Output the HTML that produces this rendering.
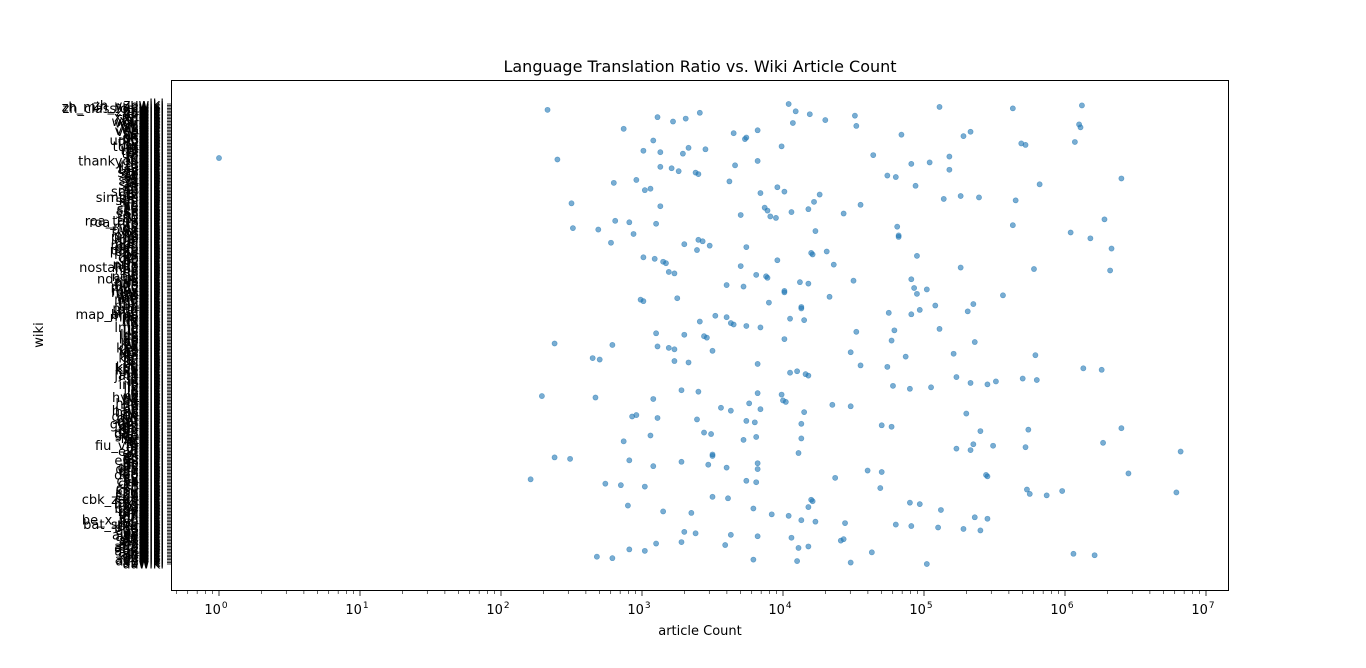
<!DOCTYPE html>
<html><head><meta charset="utf-8"><style>
body{margin:0;background:#fff;}
svg text{font-family:"DejaVu Sans","Liberation Sans",sans-serif;}
</style></head><body>
<svg id="chart" width="1366" height="663" xmlns="http://www.w3.org/2000/svg">
<rect width="1366" height="663" fill="#fff"/>
<text x="700" y="72" font-size="16" text-anchor="middle">Language Translation Ratio vs. Wiki Article Count</text>
<g id="ylabels"></g><g id="points"></g><g id="xaxis"></g>
<rect x="171.5" y="80.5" width="1057" height="510" fill="none" stroke="#000" stroke-width="1"/>
<text x="700" y="635" font-size="13" text-anchor="middle">article Count</text>
<text x="43" y="335" font-size="13" text-anchor="middle" transform="rotate(-90 43 335)">wiki</text>
</svg>
<script>
const categories = "aawiki abwiki acewiki adywiki afwiki akwiki alswiki altwiki amwiki amiwiki anwiki angwiki anpwiki arwiki arcwiki arzwiki aswiki astwiki atjwiki avwiki avkwiki awawiki aywiki azwiki azbwiki bawiki banwiki barwiki bat_smgwiki bclwiki bewiki be_x_oldwiki bgwiki bhwiki biwiki bjnwiki blkwiki bmwiki bnwiki bowiki bpywiki brwiki bswiki bugwiki bxrwiki cawiki cbk_zamwiki cdowiki cewiki cebwiki chwiki chowiki chrwiki chywiki ckbwiki cowiki crwiki crhwiki cswiki csbwiki cuwiki cvwiki cywiki dawiki dagwiki dewiki dinwiki diqwiki dsbwiki dtywiki dvwiki dzwiki eewiki elwiki emlwiki enwiki eowiki eswiki etwiki euwiki extwiki fawiki ffwiki fiwiki fiu_vrowiki fjwiki fowiki frwiki frpwiki frrwiki furwiki fywiki gawiki gagwiki ganwiki gcrwiki gdwiki glwiki glkwiki gnwiki gomwiki gorwiki gotwiki guwiki gurwiki guwwiki gvwiki hawiki hakwiki hawwiki hewiki hiwiki hifwiki howiki hrwiki hsbwiki htwiki huwiki hywiki hywwiki hzwiki iawiki idwiki iewiki igwiki iiwiki ikwiki ilowiki inhwiki iowiki iswiki itwiki iuwiki jawiki jamwiki jbowiki jvwiki kawiki kaawiki kabwiki kbdwiki kcgwiki kgwiki kiwiki kjwiki kkwiki klwiki kmwiki knwiki kowiki koiwiki krwiki krcwiki kswiki kshwiki kuwiki kvwiki kwwiki kywiki lawiki ladwiki lbwiki lbewiki lezwiki lfnwiki lgwiki liwiki lijwiki lldwiki lmowiki lnwiki lowiki lrcwiki ltwiki ltgwiki lvwiki madwiki maiwiki map_bmswiki mdfwiki mgwiki mhwiki mhrwiki miwiki minwiki mkwiki mlwiki mnwiki mniwiki mowiki mrwiki mrjwiki mswiki mtwiki muswiki mwlwiki mywiki myvwiki mznwiki nawiki nahwiki napwiki ndswiki nds_nlwiki newiki newwiki ngwiki nlwiki nnwiki nowiki novwiki nostalgiawiki nqowiki nrmwiki nsowiki nvwiki nywiki ocwiki olowiki omwiki orwiki oswiki pawiki pagwiki pamwiki papwiki pcdwiki pcmwiki pdcwiki pflwiki piwiki pihwiki plwiki pmswiki pnbwiki pntwiki pswiki ptwiki pwnwiki quwiki rmwiki rmywiki rnwiki rowiki roa_rupwiki roa_tarawiki ruwiki ruewiki rwwiki sawiki sahwiki scwiki scnwiki scowiki sdwiki sewiki sgwiki shwiki shiwiki shnwiki siwiki simplewiki skwiki skrwiki slwiki smwiki smnwiki snwiki sowiki sqwiki srwiki srnwiki sswiki stwiki stqwiki suwiki svwiki swwiki szlwiki szywiki tawiki taywiki tcywiki tewiki tetwiki tgwiki thwiki thankyouwiki tiwiki tkwiki tlwiki tnwiki towiki tpiwiki trwiki trvwiki tswiki ttwiki tumwiki twwiki tywiki tyvwiki udmwiki ugwiki ukwiki urwiki uzwiki vewiki vecwiki vepwiki viwiki vlswiki vowiki wawiki warwiki wowiki wuuwiki xalwiki xhwiki xmfwiki yiwiki yowiki zawiki zeawiki zhwiki zh_classicalwiki zh_min_nanwiki zh_yuewiki zuwiki".split(" ");
// log10(article count), listed from top row of chart downward
const articleCountLog10 = [4.04,6.12,5.11,5.63,2.33,4.09,3.41,4.19,4.51,3.11,3.31,4.30,3.22,4.07,6.10,4.52,6.11,2.87,3.82,5.33,3.65,4.84,5.28,3.74,3.73,3.08,6.07,5.69,5.72,3.99,3.33,3.45,3.01,3.13,3.29,4.64,5.18,0.00,2.40,3.82,5.04,4.91,3.66,3.13,3.21,5.18,3.26,3.38,3.40,4.74,4.80,6.40,2.96,3.62,2.80,5.82,4.94,3.96,3.06,3.02,4.01,3.84,4.26,5.26,5.39,5.14,5.65,4.22,2.50,4.55,3.13,3.87,4.18,3.89,4.06,4.43,3.70,3.91,3.95,6.28,2.81,2.91,3.10,5.63,4.81,2.51,2.69,4.23,6.04,2.94,4.82,4.82,6.18,3.40,3.43,2.78,3.30,3.48,3.74,6.33,3.39,4.31,4.20,4.21,4.95,3.01,3.09,3.96,3.15,3.17,4.36,3.70,5.26,5.78,6.32,3.19,3.23,3.81,3.88,3.89,4.91,4.50,4.12,4.18,3.60,3.72,4.93,5.02,4.01,4.01,4.95,5.56,4.33,3.25,2.99,3.01,3.90,5.35,5.08,4.13,4.13,4.97,5.31,4.75,4.91,3.52,3.60,4.05,4.15,3.41,3.63,3.65,3.74,3.84,5.11,4.79,4.52,3.10,3.30,3.44,3.46,4.01,4.77,5.36,2.38,2.79,3.11,3.19,3.23,3.50,4.48,5.21,5.79,4.87,2.65,2.70,3.23,3.33,3.82,4.55,4.74,6.13,6.26,4.10,4.05,4.16,4.18,5.23,5.70,5.80,5.51,5.33,5.45,4.78,5.05,4.90,3.28,3.40,3.82,3.99,2.29,2.67,3.08,4.00,4.02,3.76,4.35,4.48,3.56,3.84,3.63,4.15,5.30,2.96,2.93,3.11,3.39,3.74,3.80,4.13,4.70,4.77,6.40,5.74,5.40,3.44,3.49,3.06,3.81,4.13,3.72,2.87,6.27,5.35,5.49,5.72,5.23,5.33,6.82,4.11,3.50,3.50,2.38,2.49,2.91,3.28,3.82,3.47,3.08,3.60,3.82,4.60,4.70,6.45,5.44,5.45,4.37,2.21,3.74,3.81,2.74,2.85,3.02,4.69,5.73,5.98,6.79,5.75,5.87,3.50,3.61,4.20,4.21,4.90,4.97,2.90,4.18,3.79,5.12,3.15,3.35,3.92,4.04,5.36,5.45,4.13,4.23,4.44,4.80,4.91,5.10,5.28,5.40,3.30,3.38,3.63,3.82,4.06,4.43,4.41,3.28,3.10,3.59,4.18,4.11,2.91,3.02,4.63,6.06,6.21,2.68,2.79,3.79,4.10,4.48,5.02];
const xTickExponents = [0,1,2,3,4,5,6,7];

const NS="http://www.w3.org/2000/svg";
const X0=219, DEC=141.0;
function xScale(lg){return X0+lg*DEC;}
const vals = articleCountLog10.slice().reverse(); // bottom-first
const N = vals.length;
const YB=564, YT=104;
function yScale(i){return YB-(YB-YT)*i/(N-1);}
function mk(tag,attrs,parent){const e=document.createElementNS(NS,tag);for(const k in attrs)e.setAttribute(k,attrs[k]);parent.appendChild(e);return e;}

const gy=document.getElementById('ylabels');
const nc=categories.length;
for(let i=0;i<N;i++){
  const y=yScale(i);
  const t=mk('line',{x1:167,x2:171,y1:y,y2:y,stroke:'#000','stroke-width':0.8},gy);
  
  
  const ci=Math.round(i*(nc-1)/(N-1));
  const lbl=mk('text',{x:164,y:y+4.5,'font-size':13,'text-anchor':'end'},gy);
  lbl.textContent=categories[ci]||'';
  
  
}
const gp=document.getElementById('points');
for(let i=0;i<vals.length;i++){
  const c=mk('circle',{cx:xScale(vals[i]),cy:yScale(i),r:2.6,fill:'#1f77b4','fill-opacity':0.6,stroke:'#1f77b4','stroke-opacity':0.6,'stroke-width':0.6},gp);
  
  
}
const gx=document.getElementById('xaxis');
xTickExponents.forEach(e=>{
  const x=xScale(e);
  const t=mk('line',{x1:x,x2:x,y1:591,y2:596,stroke:'#000','stroke-width':0.8},gx);
  
  
  const tx=mk('text',{x:x-3,y:614,'font-size':13,'text-anchor':'middle'},gx);
  
  
  tx.textContent='10';
  const sup=mk('tspan',{dx:1,dy:-6,'font-size':9},tx);
  sup.textContent=String(e);
});
for(let e=-1;e<=7;e++){
  for(let m=2;m<=9;m++){
    const lg=e+Math.log10(m);
    const x=xScale(lg);
    if(x<172||x>1228)continue;
    const t=mk('line',{x1:x,x2:x,y1:591,y2:594,stroke:'#000','stroke-width':0.6},gx);
    
    
  }
}
</script>
</body></html>
